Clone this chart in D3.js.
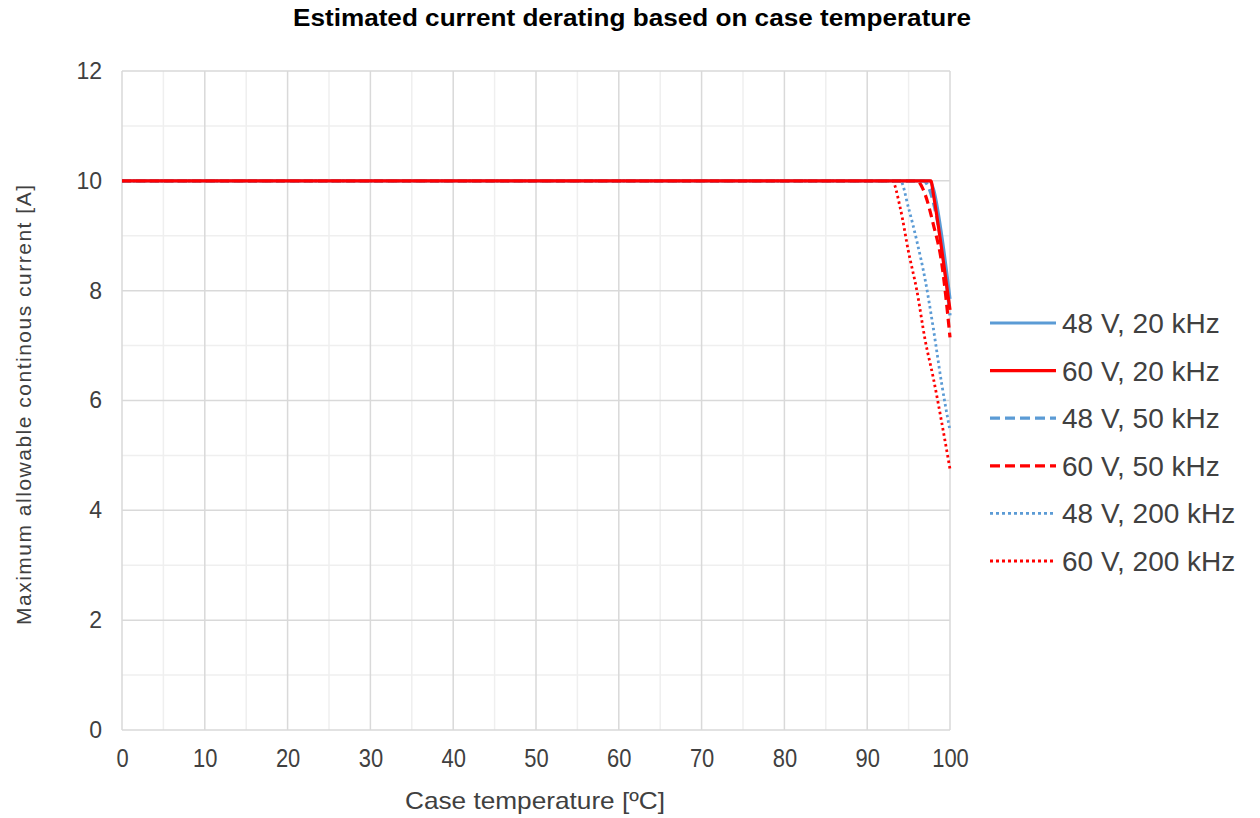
<!DOCTYPE html>
<html><head><meta charset="utf-8">
<script src="https://cdn.jsdelivr.net/npm/d3@7"></script>
<style>body{margin:0;background:#fff}svg{display:block}</style>
</head><body>
<script>
// ---- data ----
const seriesNames = ["48 V, 20 kHz","60 V, 20 kHz","48 V, 50 kHz","60 V, 50 kHz","48 V, 200 kHz","60 V, 200 kHz"];
const temp_48V_20k  = [0, 97.5, 98, 99, 100];
const cur_48V_20k   = [10, 10, 9.85, 9.0, 7.85];
const temp_60V_20k  = [0, 97.7, 98, 99, 100];
const cur_60V_20k   = [10, 10, 9.75, 8.75, 7.65];
const temp_48V_50k  = [0, 96.8, 97.5, 98, 99, 100];
const cur_48V_50k   = [10, 10, 9.85, 9.6, 8.8, 7.55];
const temp_60V_50k  = [0, 96, 97, 98, 99, 100];
const cur_60V_50k   = [10, 10, 9.75, 9.2, 8.5, 7.15];
const temp_48V_200k = [0, 94, 95, 96, 97, 98, 99, 100];
const cur_48V_200k  = [10, 10, 9.5, 8.9, 8.2, 7.3, 6.3, 5.45];
const temp_60V_200k = [0, 93, 94, 95, 96, 97, 98, 99, 100];
const cur_60V_200k  = [10, 10, 9.5, 8.7, 8.0, 7.1, 6.4, 5.6, 4.75];
const xTicks = [0,10,20,30,40,50,60,70,80,90,100];
const yTicks = [0,2,4,6,8,10,12];
const titleText = "Estimated current derating based on case temperature";
const xTitle = "Case temperature [ºC]";
const yTitle = "Maximum allowable continous current [A]";

const temps = [temp_48V_20k, temp_60V_20k, temp_48V_50k, temp_60V_50k, temp_48V_200k, temp_60V_200k];
const currs = [cur_48V_20k, cur_60V_20k, cur_48V_50k, cur_60V_50k, cur_48V_200k, cur_60V_200k];

const colors = ["#5b9bd5","#ff0000","#5b9bd5","#ff0000","#5b9bd5","#ff0000"];
const dashes = [null, null, "9,5", "9,5", "2.5,3", "2.5,3"];
const widths = [3.2, 3.2, 3.2, 3.2, 2.8, 2.8];

const FONT = "'Liberation Sans',Arial,sans-serif";
const W = 1260, H = 818;
const svg = d3.select("body").append("svg").attr("width", W).attr("height", H);
const x = d3.scaleLinear().domain([0,100]).range([122, 950]);
const y = d3.scaleLinear().domain([0,12]).range([730, 71]);

// gridlines
const g = svg.append("g");
d3.range(5,100,10).forEach(v => g.append("line").attr("x1",x(v)).attr("x2",x(v)).attr("y1",y(0)).attr("y2",y(12)).attr("stroke","#efefef").attr("stroke-width",1.5));
d3.range(1,12,2).forEach(v => g.append("line").attr("y1",y(v)).attr("y2",y(v)).attr("x1",x(0)).attr("x2",x(100)).attr("stroke","#efefef").attr("stroke-width",1.5));
xTicks.forEach(v => g.append("line").attr("x1",x(v)).attr("x2",x(v)).attr("y1",y(0)).attr("y2",y(12)).attr("stroke","#d9d9d9").attr("stroke-width",1.5));
yTicks.forEach(v => g.append("line").attr("y1",y(v)).attr("y2",y(v)).attr("x1",x(0)).attr("x2",x(100)).attr("stroke","#d9d9d9").attr("stroke-width",1.5));

// axes (labels only)
const xAxis = d3.axisBottom(x).tickValues(xTicks).tickSize(0).tickPadding(19);
svg.append("g").attr("transform",`translate(0,${y(0)})`).call(xAxis)
  .call(s => s.select(".domain").remove())
  .selectAll("text").attr("font-family",FONT).attr("font-size",26).attr("fill","#404040")
  .attr("textLength", d => String(d).length*12.2).attr("lengthAdjust","spacingAndGlyphs");
const yAxis = d3.axisLeft(y).tickValues(yTicks).tickSize(0).tickPadding(20);
svg.append("g").attr("transform",`translate(${x(0)},0)`).call(yAxis)
  .call(s => s.select(".domain").remove())
  .selectAll("text").attr("font-family",FONT).attr("font-size",23).attr("fill","#404040");

// lines
const line = d3.line().curve(d3.curveMonotoneX);
const order = [4,5,2,3,0,1];
order.forEach(i => {
  const pts = temps[i].map((t,k) => [x(t), y(currs[i][k])]);
  const p = svg.append("path").attr("d", line(pts)).attr("fill","none")
    .attr("stroke", colors[i]).attr("stroke-width", widths[i]);
  if (dashes[i]) p.attr("stroke-dasharray", dashes[i]);
});

// title
svg.append("text").attr("x",632).attr("y",26).attr("text-anchor","middle")
  .attr("font-family",FONT).attr("font-weight","bold").attr("font-size",23).attr("fill","#000")
  .attr("textLength",678).attr("lengthAdjust","spacingAndGlyphs").text(titleText);
// x title
svg.append("text").attr("x",535).attr("y",809).attr("text-anchor","middle")
  .attr("font-family",FONT).attr("font-size",24).attr("fill","#404040")
  .attr("textLength",260).attr("lengthAdjust","spacingAndGlyphs").text(xTitle);
// y title
svg.append("text").attr("transform","translate(31,405) rotate(-90)").attr("text-anchor","middle")
  .attr("font-family",FONT).attr("font-size",21).attr("fill","#404040")
  .attr("textLength",440).attr("lengthAdjust","spacing").text(yTitle);

// legend
const legY0 = 323, legDy = 47.6;
seriesNames.forEach((n,i) => {
  const yy = legY0 + i*legDy;
  const l = svg.append("line").attr("x1",990).attr("x2",1056).attr("y1",yy).attr("y2",yy)
    .attr("stroke",colors[i]).attr("stroke-width",widths[i]);
  if (dashes[i]) l.attr("stroke-dasharray", i>=4 ? "3,3" : "10,5");
  svg.append("text").attr("x",1062).attr("y",yy+10).attr("font-family",FONT)
    .attr("font-size",28).attr("fill","#404040").text(n);
});
</script>
</body></html>
